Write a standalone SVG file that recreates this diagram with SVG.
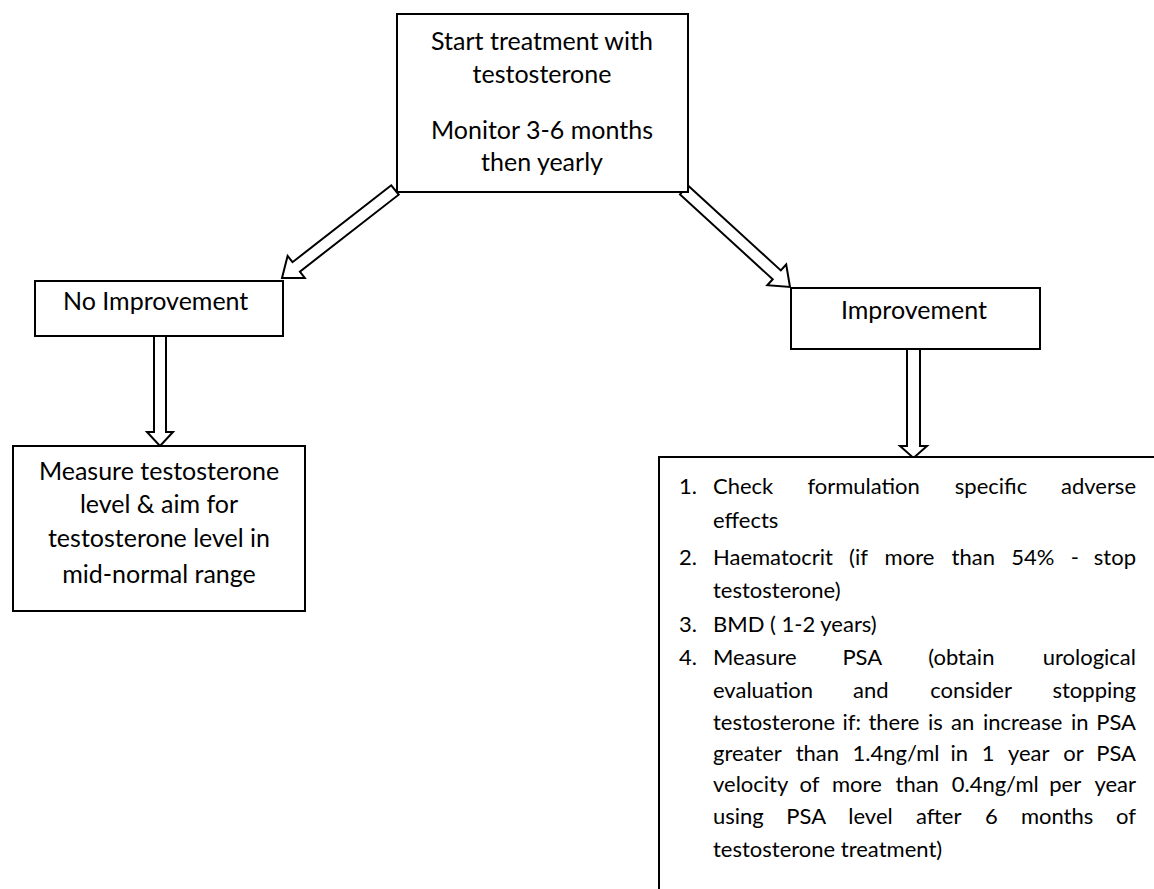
<svg xmlns="http://www.w3.org/2000/svg" width="1154" height="889" viewBox="0 0 1154 889">
<style>
.box{fill:#fff;stroke:#000;stroke-width:2}
.arr{fill:#fff;stroke:#000;stroke-width:2;stroke-linejoin:miter}
text{font-family:Lato,"Open Sans","Liberation Sans",sans-serif;font-size:25px;fill:#000}
.c{text-anchor:middle}
.l{font-size:22px}
.e{text-anchor:end}
</style>
<rect width="1154" height="889" fill="#fff"/>
<g id="connectors">
<polygon class="arr" points="391.3,185.3 292.5,262.2 287.6,255.9 282,278 304.8,278 299.9,271.6 398.7,194.7"/>
<polygon class="arr" points="688,185.6 780.8,270.4 786.2,264.5 790,287 767.3,285.2 772.7,279.3 680,194.4"/>
<polygon class="arr" points="154,336 154,432 147,432 160,446 173,432 166,432 166,336"/>
<polygon class="arr" points="907,349 907,446 900,446 913.5,458 927,446 920,446 920,349"/>
</g>
<g id="start">
<rect class="box" x="397" y="14" width="291" height="178"/>
<text class="c" x="542" y="50">Start treatment with</text>
<text class="c" x="542" y="83">testosterone</text>
<text class="c" x="542" y="139">Monitor 3-6 months</text>
<text class="c" x="542" y="171">then yearly</text>
</g>
<g id="no-improvement">
<rect class="box" x="35" y="281" width="248" height="55"/>
<text x="63" y="310">No Improvement</text>
</g>
<g id="improvement">
<rect class="box" x="791" y="288" width="249" height="61"/>
<text class="c" x="914" y="319">Improvement</text>
</g>
<g id="measure">
<rect class="box" x="13" y="446" width="292" height="165"/>
<text class="c" x="159" y="480">Measure testosterone</text>
<text class="c" x="159" y="513">level &amp; aim for</text>
<text class="c" x="159" y="547">testosterone level in</text>
<text class="c" x="159" y="583">mid-normal range</text>
</g>
<g id="checks">
<rect class="box" x="659" y="457" width="530" height="460"/>
<text class="l" x="679" y="494">1.</text>
<text class="l" y="494"><tspan x="713">Check</tspan><tspan x="807.4">formulation</tspan><tspan x="954.8">specific</tspan><tspan x="1136" class="e">adverse</tspan></text>
<text class="l" x="713" y="528">effects</text>
<text class="l" x="679" y="565">2.</text>
<text class="l" y="565"><tspan x="713">Haematocrit</tspan><tspan x="849.1">(if</tspan><tspan x="884.6">more</tspan><tspan x="951.6">than</tspan><tspan x="1011.3">54%</tspan><tspan x="1070.8">-</tspan><tspan x="1136" class="e">stop</tspan></text>
<text class="l" x="713" y="598">testosterone)</text>
<text class="l" x="679" y="632">3.</text>
<text class="l" x="713" y="632">BMD ( 1-2 years)</text>
<text class="l" x="679" y="665">4.</text>
<text class="l" y="665"><tspan x="713">Measure</tspan><tspan x="842.4">PSA</tspan><tspan x="928.2">(obtain</tspan><tspan x="1136" class="e">urological</tspan></text>
<text class="l" y="698"><tspan x="713">evaluation</tspan><tspan x="853.1">and</tspan><tspan x="930.2">consider</tspan><tspan x="1136" class="e">stopping</tspan></text>
<text class="l" y="730"><tspan x="713">testosterone</tspan><tspan x="842.5">if:</tspan><tspan x="868.4">there</tspan><tspan x="928.1">is</tspan><tspan x="951.1">an</tspan><tspan x="983">increase</tspan><tspan x="1071.1">in</tspan><tspan x="1136" class="e">PSA</tspan></text>
<text class="l" y="761"><tspan x="713">greater</tspan><tspan x="795.7">than</tspan><tspan x="852.5">1.4ng/ml</tspan><tspan x="950.6">in</tspan><tspan x="981.7">1</tspan><tspan x="1007.9">year</tspan><tspan x="1063.2">or</tspan><tspan x="1136" class="e">PSA</tspan></text>
<text class="l" y="792"><tspan x="713">velocity</tspan><tspan x="799.6">of</tspan><tspan x="832">more</tspan><tspan x="895.5">than</tspan><tspan x="951.7">0.4ng/ml</tspan><tspan x="1049.2">per</tspan><tspan x="1136" class="e">year</tspan></text>
<text class="l" y="824"><tspan x="713">using</tspan><tspan x="786.3">PSA</tspan><tspan x="848.3">level</tspan><tspan x="916.1">after</tspan><tspan x="985">6</tspan><tspan x="1020.9">months</tspan><tspan x="1136" class="e">of</tspan></text>
<text class="l" x="713" y="857">testosterone treatment)</text>
</g>
</svg>
